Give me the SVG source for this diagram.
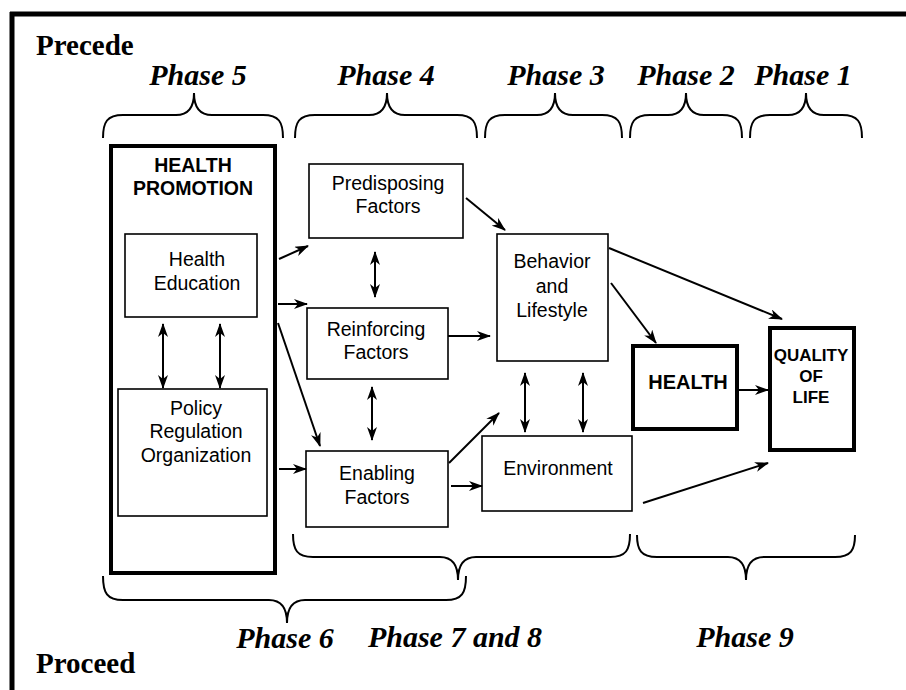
<svg xmlns="http://www.w3.org/2000/svg" width="906" height="690" viewBox="0 0 906 690">
  <style>
    .box { fill: #fff; stroke: #000; stroke-width: 1.6; }
    .thick { fill: #fff; stroke: #000; stroke-width: 4; }
    .lbl { font-family: "Liberation Sans", Arial, sans-serif; font-size: 19.5px; fill: #000; text-anchor: middle; }
    .blbl { font-family: "Liberation Sans", Arial, sans-serif; font-weight: bold; fill: #000; text-anchor: middle; }
    .phase { font-family: "Liberation Serif", "Times New Roman", serif; font-weight: bold; font-style: italic; font-size: 30px; fill: #000; text-anchor: middle; }
    .title { font-family: "Liberation Serif", "Times New Roman", serif; font-weight: bold; font-size: 29px; fill: #000; }
    .brace { fill: none; stroke: #000; stroke-width: 2; }
    .conn { fill: none; stroke: #000; stroke-width: 2; marker-end: url(#arrow); }
    .both { marker-start: url(#arrow); }
  </style>
  <defs>
    <marker id="arrow" viewBox="0 0 14 10" refX="13" refY="5" markerWidth="14" markerHeight="10" markerUnits="userSpaceOnUse" orient="auto-start-reverse">
      <path d="M0,0 L14,5 L0,10 L4,5 z" fill="#000"/>
    </marker>
  </defs>

  <rect width="906" height="690" fill="#fff"/>

  <!-- frame -->
  <g id="frame" stroke="#000" stroke-width="5">
    <line x1="10" y1="14" x2="906" y2="14"/>
    <line x1="12" y1="12" x2="12" y2="690"/>
  </g>

  <text class="title" x="36" y="55">Precede</text>
  <text class="title" x="36" y="673">Proceed</text>

  <!-- phase labels and braces along the top -->
  <g id="phases-top">
    <text class="phase" x="198" y="85">Phase 5</text>
    <text class="phase" x="386" y="85">Phase 4</text>
    <text class="phase" x="556" y="85">Phase 3</text>
    <text class="phase" x="686" y="85">Phase 2</text>
    <text class="phase" x="803" y="85">Phase 1</text>
    <path class="brace" d="M103,138 C103,122 107,115 123,115 L176,115 C188,115 194,108 194,93 C194,108 200,115 212,115 L263,115 C279,115 283,122 283,138"/>
    <path class="brace" d="M295,138 C295,122 299,115 315,115 L369,115 C381,115 387,108 387,93 C387,108 393,115 405,115 L457,115 C473,115 477,122 477,138"/>
    <path class="brace" d="M485,138 C485,122 489,115 505,115 L537,115 C549,115 555,108 555,93 C555,108 561,115 573,115 L602,115 C618,115 622,122 622,138"/>
    <path class="brace" d="M630,138 C630,122 634,115 650,115 L668,115 C680,115 686,108 686,93 C686,108 692,115 704,115 L722,115 C738,115 742,122 742,138"/>
    <path class="brace" d="M750,138 C750,122 754,115 770,115 L788,115 C800,115 806,108 806,93 C806,108 812,115 824,115 L842,115 C858,115 862,122 862,138"/>
  </g>

  <!-- phase labels and braces along the bottom -->
  <g id="phases-bottom">
    <path class="brace" d="M293,534 C293,550 297,557 313,557 L440,557 C452,557 458,564 458,580 C458,564 464,557 476,557 L610,557 C626,557 630,550 630,534"/>
    <path class="brace" d="M103,576 C103,593 107,600 123,600 L269,600 C281,600 287,607 287,623 C287,607 293,600 305,600 L446,600 C462,600 466,593 466,576"/>
    <path class="brace" d="M637,535 C637,550 641,557 657,557 L728,557 C740,557 746,564 746,580 C746,564 752,557 764,557 L835,557 C851,557 855,550 855,535"/>
    <text class="phase" x="285" y="648">Phase 6</text>
    <text class="phase" x="455" y="647">Phase 7 and 8</text>
    <text class="phase" x="745" y="647">Phase 9</text>
  </g>

  <!-- nodes -->
  <g id="health-promotion">
    <rect class="thick" x="111" y="146" width="164" height="427"/>
    <text class="blbl" x="193" y="172" font-size="19.5">HEALTH</text>
    <text class="blbl" x="193" y="195" font-size="19.5">PROMOTION</text>
  </g>
  <g id="health-education">
    <rect class="box" x="125" y="234" width="132" height="83"/>
    <text class="lbl" x="197" y="266">Health</text>
    <text class="lbl" x="197" y="290">Education</text>
  </g>
  <g id="policy">
    <rect class="box" x="118" y="389" width="149" height="127"/>
    <text class="lbl" x="196" y="415">Policy</text>
    <text class="lbl" x="196" y="438">Regulation</text>
    <text class="lbl" x="196" y="462">Organization</text>
  </g>
  <g id="predisposing">
    <rect class="box" x="309" y="164" width="154" height="74"/>
    <text class="lbl" x="388" y="190">Predisposing</text>
    <text class="lbl" x="388" y="213">Factors</text>
  </g>
  <g id="reinforcing">
    <rect class="box" x="307" y="308" width="141" height="71"/>
    <text class="lbl" x="376" y="336">Reinforcing</text>
    <text class="lbl" x="376" y="359">Factors</text>
  </g>
  <g id="enabling">
    <rect class="box" x="306" y="451" width="142" height="76"/>
    <text class="lbl" x="377" y="480">Enabling</text>
    <text class="lbl" x="377" y="504">Factors</text>
  </g>
  <g id="behavior">
    <rect class="box" x="497" y="234" width="111" height="127"/>
    <text class="lbl" x="552" y="268">Behavior</text>
    <text class="lbl" x="552" y="293">and</text>
    <text class="lbl" x="552" y="317">Lifestyle</text>
  </g>
  <g id="environment">
    <rect class="box" x="482" y="436" width="150" height="75"/>
    <text class="lbl" x="558" y="475">Environment</text>
  </g>
  <g id="health">
    <rect class="thick" x="633" y="346" width="104" height="83"/>
    <text class="blbl" x="688" y="389" font-size="20">HEALTH</text>
  </g>
  <g id="quality-of-life">
    <rect class="thick" x="770" y="328" width="84" height="122"/>
    <text class="blbl" x="811" y="361" font-size="17">QUALITY</text>
    <text class="blbl" x="811" y="382" font-size="17">OF</text>
    <text class="blbl" x="811" y="403" font-size="17">LIFE</text>
  </g>

  <!-- connectors -->
  <g id="connectors">
    <line class="conn" x1="279" y1="259" x2="308" y2="246"/>
    <line class="conn" x1="278" y1="304" x2="307" y2="304"/>
    <line class="conn" x1="278" y1="323" x2="320" y2="446"/>
    <line class="conn" x1="279" y1="469" x2="306" y2="469"/>
    <line class="conn both" x1="163" y1="324" x2="163" y2="388"/>
    <line class="conn both" x1="220" y1="324" x2="220" y2="388"/>
    <line class="conn both" x1="375" y1="252" x2="375" y2="297"/>
    <line class="conn both" x1="372" y1="387" x2="372" y2="440"/>
    <line class="conn" x1="466" y1="198" x2="505" y2="230"/>
    <line class="conn" x1="448" y1="336" x2="490" y2="336"/>
    <line class="conn" x1="449" y1="463" x2="499" y2="413"/>
    <line class="conn" x1="451" y1="486" x2="482" y2="486"/>
    <line class="conn both" x1="525" y1="373" x2="525" y2="432"/>
    <line class="conn both" x1="583" y1="373" x2="583" y2="432"/>
    <line class="conn" x1="611" y1="283" x2="656" y2="343"/>
    <line class="conn" x1="609" y1="248" x2="782" y2="319"/>
    <line class="conn" x1="739" y1="390" x2="768" y2="390"/>
    <line class="conn" x1="643" y1="503" x2="768" y2="463"/>
  </g>
</svg>
